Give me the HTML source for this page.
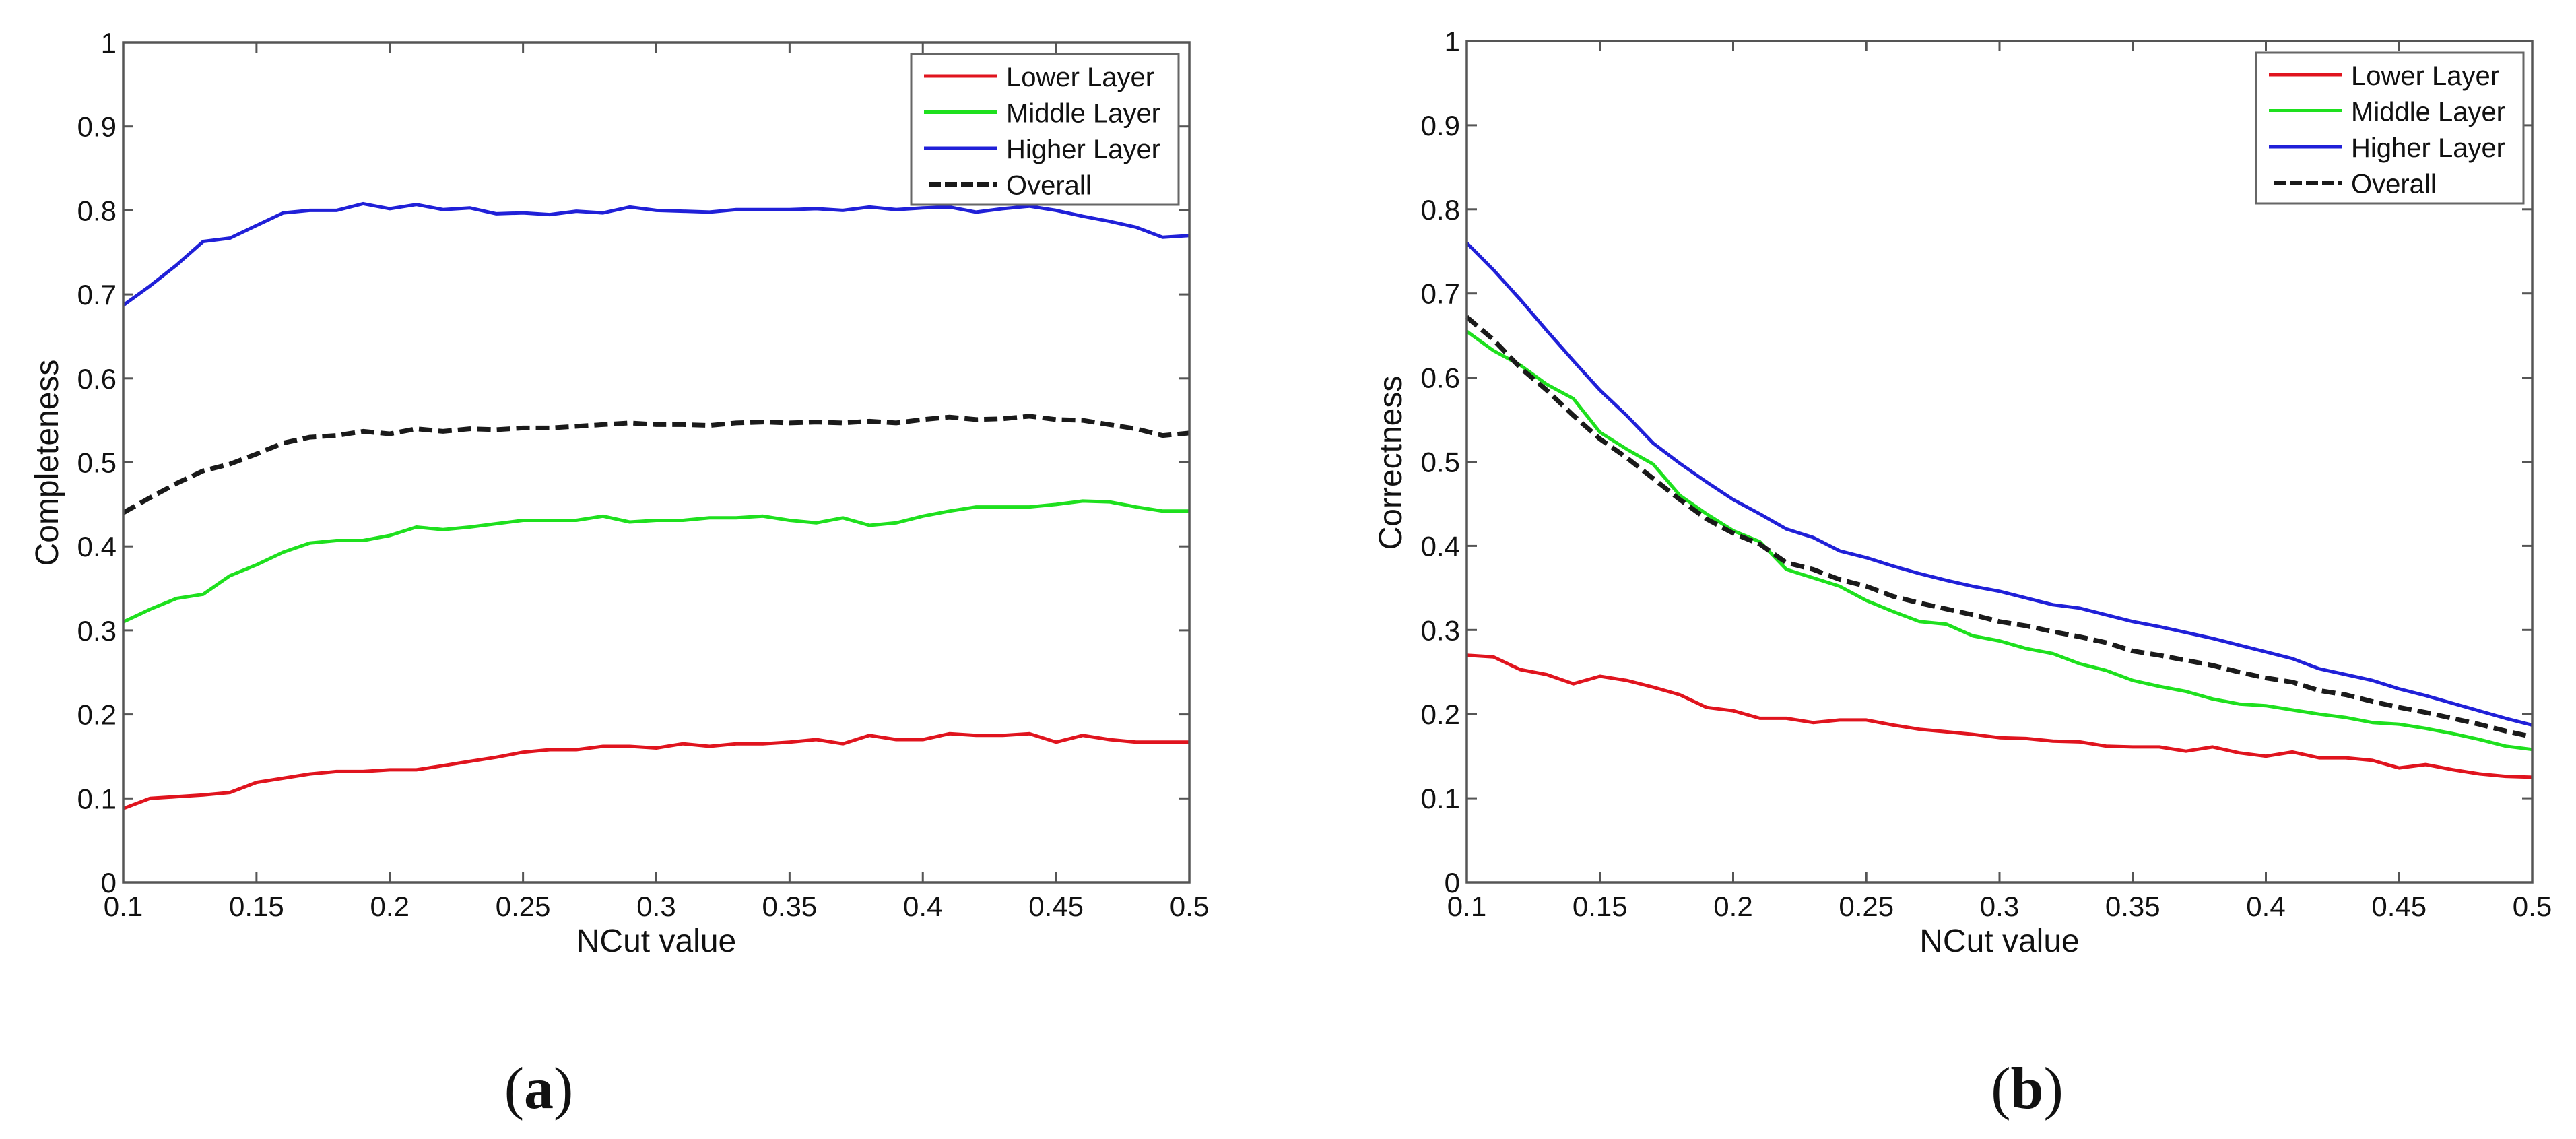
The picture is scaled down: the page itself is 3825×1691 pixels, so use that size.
<!DOCTYPE html>
<html><head><meta charset="utf-8">
<style>
html,body{margin:0;padding:0;background:#fff;}
svg{display:block;}
text{font-family:"Liberation Sans",Arial,sans-serif;fill:#111;}
text.cap{font-family:"Liberation Serif","Times New Roman",serif;}
</style></head>
<body>
<svg id="fig" width="3825" height="1691" viewBox="0 0 3825 1691" xmlns="http://www.w3.org/2000/svg">
<rect width="3825" height="1691" fill="#fff"/>
</svg>
<script>
const xValues = [];
for (let i = 0; i <= 40; i++) xValues.push(+(0.1 + i*0.01).toFixed(2));
const xTicks = [0.1,0.15,0.2,0.25,0.3,0.35,0.4,0.45,0.5];
const xTickLabels = ["0.1","0.15","0.2","0.25","0.3","0.35","0.4","0.45","0.5"];
const yTicks = [0,0.1,0.2,0.3,0.4,0.5,0.6,0.7,0.8,0.9,1];
const yTickLabels = ["0","0.1","0.2","0.3","0.4","0.5","0.6","0.7","0.8","0.9","1"];
const seriesNames = ["Lower Layer","Middle Layer","Higher Layer","Overall"];

const compLower = [0.088,0.1,0.102,0.104,0.107,0.119,0.124,0.129,0.132,0.132,0.134,0.134,0.139,0.144,0.149,0.155,0.158,0.158,0.162,0.162,0.16,0.165,0.162,0.165,0.165,0.167,0.17,0.165,0.175,0.17,0.17,0.177,0.175,0.175,0.177,0.167,0.175,0.17,0.167,0.167,0.167];
const compMiddle = [0.31,0.325,0.338,0.343,0.365,0.378,0.393,0.404,0.407,0.407,0.413,0.423,0.42,0.423,0.427,0.431,0.431,0.431,0.436,0.429,0.431,0.431,0.434,0.434,0.436,0.431,0.428,0.434,0.425,0.428,0.436,0.442,0.447,0.447,0.447,0.45,0.454,0.453,0.447,0.442,0.442];
const compHigher = [0.687,0.71,0.735,0.763,0.767,0.782,0.797,0.8,0.8,0.808,0.802,0.807,0.801,0.803,0.796,0.797,0.795,0.799,0.797,0.804,0.8,0.799,0.798,0.801,0.801,0.801,0.802,0.8,0.804,0.801,0.803,0.804,0.798,0.802,0.805,0.8,0.793,0.787,0.78,0.768,0.77];
const compOverall = [0.44,0.458,0.475,0.49,0.498,0.51,0.523,0.53,0.532,0.537,0.534,0.54,0.537,0.54,0.539,0.541,0.541,0.543,0.545,0.547,0.545,0.545,0.544,0.547,0.548,0.547,0.548,0.547,0.549,0.547,0.551,0.554,0.551,0.552,0.555,0.551,0.55,0.545,0.54,0.532,0.535];

const corrLower = [0.27,0.268,0.253,0.247,0.236,0.245,0.24,0.232,0.223,0.208,0.204,0.195,0.195,0.19,0.193,0.193,0.187,0.182,0.179,0.176,0.172,0.171,0.168,0.167,0.162,0.161,0.161,0.156,0.161,0.154,0.15,0.155,0.148,0.148,0.145,0.136,0.14,0.134,0.129,0.126,0.125];
const corrMiddle = [0.655,0.632,0.615,0.592,0.575,0.535,0.515,0.497,0.46,0.438,0.418,0.405,0.372,0.362,0.352,0.335,0.322,0.31,0.307,0.293,0.287,0.278,0.272,0.26,0.252,0.24,0.233,0.227,0.218,0.212,0.21,0.205,0.2,0.196,0.19,0.188,0.183,0.177,0.17,0.162,0.158];
const corrHigher = [0.76,0.728,0.693,0.656,0.62,0.585,0.555,0.522,0.498,0.476,0.455,0.438,0.42,0.41,0.394,0.386,0.376,0.367,0.359,0.352,0.346,0.338,0.33,0.326,0.318,0.31,0.304,0.297,0.29,0.282,0.274,0.266,0.254,0.247,0.24,0.23,0.222,0.213,0.204,0.195,0.187];
const corrOverall = [0.672,0.645,0.612,0.585,0.555,0.527,0.505,0.48,0.455,0.432,0.415,0.402,0.38,0.372,0.36,0.352,0.34,0.332,0.325,0.318,0.31,0.305,0.298,0.292,0.285,0.275,0.27,0.264,0.258,0.25,0.243,0.238,0.228,0.223,0.215,0.208,0.202,0.195,0.188,0.18,0.173];

const NS = "http://www.w3.org/2000/svg";
const svg = document.getElementById("fig");
function mk(tag, attrs, parent){
  const e = document.createElementNS(NS, tag);
  for (const k in attrs) e.setAttribute(k, attrs[k]);
  (parent||svg).appendChild(e);
  return e;
}
const colors = ["#e0141e","#1ee01e","#2020d8","#1a1a1a"];

function drawChart(cfg){
  const g = mk("g", {});
  
  
  const L=cfg.left, R=cfg.right, T=cfg.top, B=cfg.bottom;
  const sx = v => L + (v-0.1)/0.4*(R-L);
  const sy = v => B - v*(B-T);
  xTicks.forEach((t,i)=>{
    const x = sx(t);
    mk("line",{x1:x,y1:B,x2:x,y2:B-15,stroke:"#555","stroke-width":3},g);
    mk("line",{x1:x,y1:T,x2:x,y2:T+15,stroke:"#555","stroke-width":3},g);
    const tx = mk("text",{x:x,y:B+50,"font-size":42,"text-anchor":"middle"},g);
    tx.textContent = xTickLabels[i];
    
    
  });
  yTicks.forEach((t,i)=>{
    const y = sy(t);
    mk("line",{x1:L,y1:y,x2:L+15,y2:y,stroke:"#555","stroke-width":3},g);
    mk("line",{x1:R,y1:y,x2:R-15,y2:y,stroke:"#555","stroke-width":3},g);
    const ty = mk("text",{x:L-10,y:y+15,"font-size":42,"text-anchor":"end"},g);
    ty.textContent = yTickLabels[i];
    
    
  });
  const sets = cfg.series;
  sets.forEach((vals,si)=>{
    const pts = vals.map((v,i)=> sx(xValues[i]).toFixed(1)+","+sy(v).toFixed(1)).join(" ");
    const attrs = {points:pts,fill:"none",stroke:colors[si],"stroke-width":si===3?7:5,"stroke-linejoin":"round"};
    if (si===3) attrs["stroke-dasharray"]="20 9";
    const pl = mk("polyline",attrs,g);
    
    
  });
  const fr = mk("rect",{x:L,y:T,width:R-L,height:B-T,fill:"none",stroke:"#555","stroke-width":3.5},g);
  
  
  const lg = mk("g",{},g);
  
  
  const lx = cfg.legX, ly = cfg.legY;
  mk("rect",{x:lx,y:ly,width:397,height:224,fill:"#fff",stroke:"#666","stroke-width":3},lg);
  seriesNames.forEach((n,i)=>{
    const yy = ly + 33 + i*53.5;
    const la = {x1:lx+19,y1:yy,x2:lx+128,y2:yy,stroke:colors[i],"stroke-width":i===3?7:5};
    if (i===3){ la["stroke-dasharray"]="18 6"; la.x1 = lx+26; }
    mk("line",la,lg);
    const t = mk("text",{x:lx+141,y:yy+15,"font-size":40},lg);
    t.textContent = n;
    
    
  });
  const xl = mk("text",{x:(L+R)/2,y:B+103,"font-size":48,"text-anchor":"middle"},g);
  xl.textContent = "NCut value";
  
  
  const yl = mk("text",{x:cfg.ylx,y:687,"font-size":48,"text-anchor":"middle",transform:"rotate(-90 "+cfg.ylx+" 687)"},g);
  yl.textContent = cfg.ytitle;
  
  
  const cap = mk("text",{x:cfg.capX,y:1645,"font-size":88,"text-anchor":"middle","class":"cap"},g);
  cap.innerHTML = '(<tspan font-weight="bold">'+cfg.cap+'</tspan>)';
  
  
}
drawChart({name:"completeness-chart",left:183,right:1766,top:63,bottom:1310,legX:1353,legY:80,ylx:86,ytitle:"Completeness",capX:800,cap:"a",
  series:[compLower,compMiddle,compHigher,compOverall]});
drawChart({name:"correctness-chart",left:2178,right:3760,top:61,bottom:1310,legX:3350,legY:78,ylx:2081,ytitle:"Correctness",capX:3010,cap:"b",
  series:[corrLower,corrMiddle,corrHigher,corrOverall]});
</script>
</body></html>
